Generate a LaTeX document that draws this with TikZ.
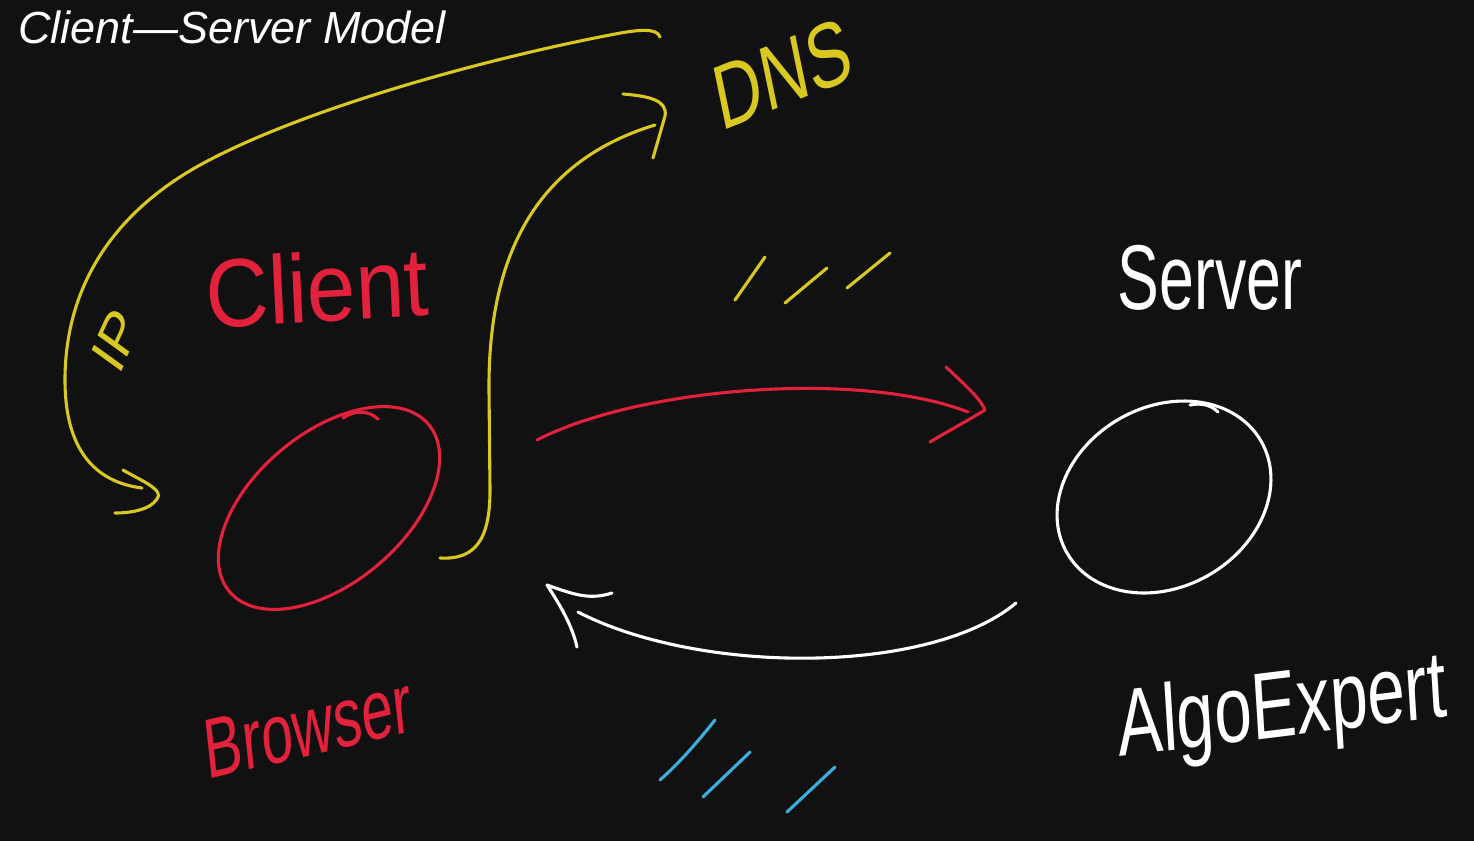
\documentclass[tikz,border=0pt]{standalone}
\usepackage{fontspec}
\setmainfont{Liberation Sans}
\usetikzlibrary{shapes.geometric}
\definecolor{bg}{HTML}{111111}
\definecolor{inkred}{HTML}{E2213C}
\definecolor{inkyellow}{HTML}{D8C820}
\definecolor{inkblue}{HTML}{3AAEDC}
\begin{document}
\begin{tikzpicture}[x=1pt,y=-1pt,
  stroke/.style={line width=3.1pt,line cap=round,line join=round},
  redink/.style={stroke,draw=inkred},
  yellowink/.style={stroke,draw=inkyellow},
  whiteink/.style={stroke,draw=white},
  blueink/.style={stroke,draw=inkblue},
  hand/.style={inner sep=0pt,outer sep=0pt}]
\fill[bg] (0,0) rectangle (1474,841);
\useasboundingbox (0,0) rectangle (1474,841);

% title
\node[hand,anchor=west,text=white,font=\fontsize{45}{50}\selectfont\itshape] (title) at (18,27) {Client—Server Model};

% labels
\node[hand,text=inkred,font=\fontsize{97}{100}\selectfont,xscale=0.9,rotate=3] (clientlbl) at (317,287) {Client};
\node[hand,text=inkred,font=\fontsize{85}{90}\selectfont,xscale=0.67,rotate=9] (browserlbl) at (308,727) {Browser};
\node[hand,text=white,font=\fontsize{92}{95}\selectfont,xscale=0.68] (serverlbl) at (1210,278) {Server};
\node[hand,text=white,font=\fontsize{95}{100}\selectfont,xscale=0.71,rotate=5] (algolbl) at (1282,712) {AlgoExpert};
\node[hand,text=inkyellow,font=\fontsize{92}{95}\selectfont,xscale=0.72,rotate=16] (dnslbl) at (782,74) {DNS};
\node[hand,text=inkyellow,font=\fontsize{62}{65}\selectfont,xscale=0.8,rotate=60] (iplbl) at (116,340) {IP};

% client and server ellipses
\node[ellipse,redink,minimum width=260pt,minimum height=150pt,rotate=40,inner sep=0pt] (client) at (329,508) {};
\node[ellipse,whiteink,minimum width=224pt,minimum height=180pt,rotate=30,inner sep=0pt] (server) at (1164,497) {};
\draw[redink] (343,418) .. controls (355,410) and (368,410) .. (378,419);
\draw[whiteink] (1190,405) .. controls (1200,403) and (1210,404) .. (1218,412);

% named coordinates
\coordinate (reqS) at (537,440);
\coordinate (reqE) at (968,412);
\coordinate (reqT) at (985,410);
\coordinate (resS) at (1016,603);
\coordinate (resE) at (578,612);
\coordinate (resT) at (547,585);
\coordinate (dnsS) at (440,558);
\coordinate (dnsE) at (655,125);
\coordinate (dnsT) at (665,116);
\coordinate (ipS) at (660,37);
\coordinate (ipE) at (142,488);
\coordinate (ipT) at (157,499);

% request arrow (red)
\draw[redink] (reqS) .. controls (640,387) and (860,370) .. (reqE);
\draw[redink] (946,367) .. controls (965,385) and (980,398) .. (reqT) .. controls (965,422) and (945,433) .. (930,442);

% response arrow (white)
\draw[whiteink] (resS) .. controls (930,675) and (700,675) .. (resE);
\draw[whiteink] (612,593) .. controls (590,600) and (575,595) .. (resT) .. controls (560,605) and (572,625) .. (577,647);

% DNS lookup (yellow)
\draw[yellowink] (dnsS) .. controls (475,560) and (490,540) .. (490,490) -- (489,390) .. controls (488,250) and (540,160) .. (dnsE);
\draw[yellowink] (623,94) .. controls (648,96) and (668,100) .. (dnsT) -- (653,158);

% IP reply (yellow)
\draw[yellowink] (ipS) .. controls (657,28) and (640,29) .. (610,35) .. controls (480,60) and (300,110) .. (200,165) .. controls (110,215) and (65,290) .. (65,380) .. controls (65,450) and (95,482) .. (ipE);
\draw[yellowink] (123,470) .. controls (140,480) and (165,490) .. (ipT) .. controls (150,510) and (130,513) .. (115,513);

% slash marks
\draw[yellowink] (765,257) -- (735,300);
\draw[yellowink] (827,268) -- (785,303);
\draw[yellowink] (890,253) -- (847,288);
\draw[blueink] (715,720) .. controls (695,745) and (680,762) .. (660,780);
\draw[blueink] (750,752) -- (703,797);
\draw[blueink] (835,767) -- (787,812);
\end{tikzpicture}
\end{document}
